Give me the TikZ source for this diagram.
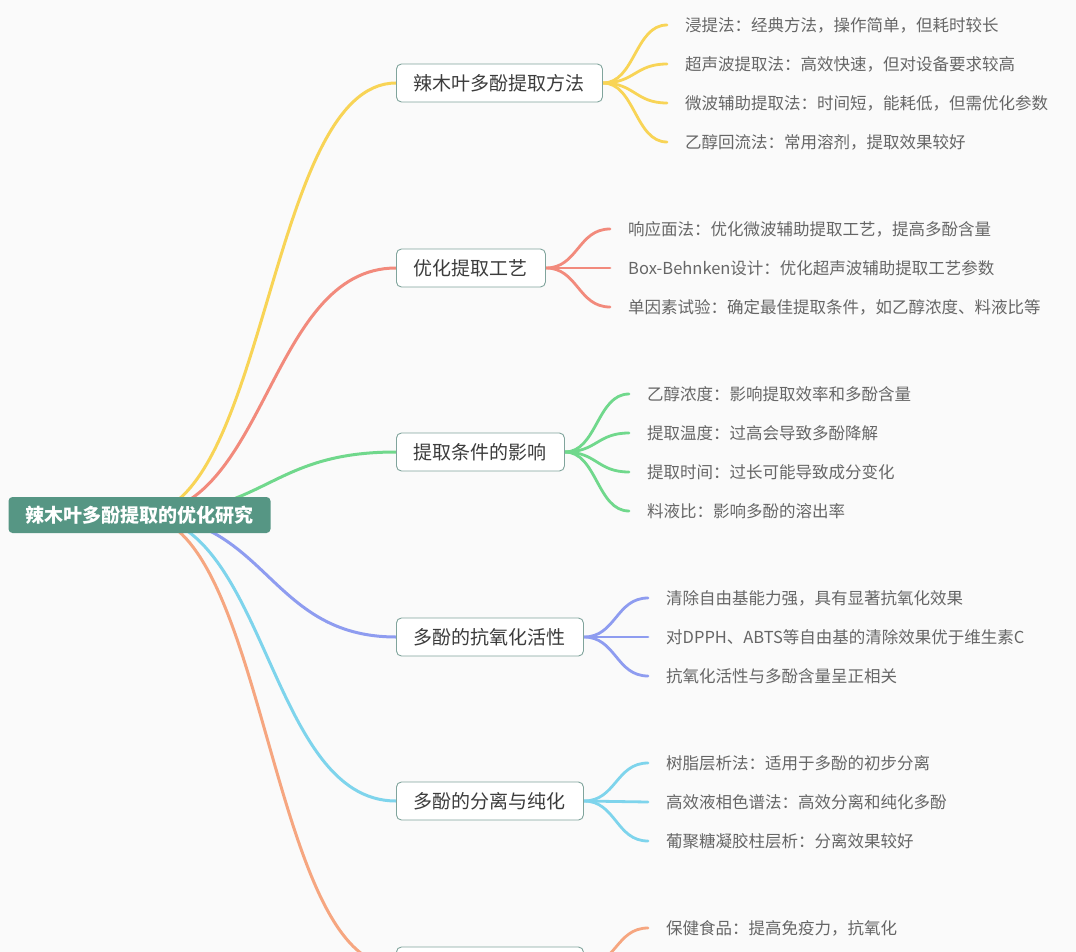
\documentclass[tikz,border=0pt]{standalone}
\usepackage{fontspec}
\setmainfont{Noto Sans CJK SC}
\usetikzlibrary{calc, backgrounds}
\definecolor{pagebg}{RGB}{250,250,250}
\definecolor{rootfill}{RGB}{86,150,132}
\definecolor{boxline}{RGB}{128,164,156}
\definecolor{txtmain}{RGB}{60,60,60}
\definecolor{txtleaf}{RGB}{102,102,102}
\definecolor{cyel}{RGB}{248,212,86}
\definecolor{cred}{RGB}{242,138,124}
\definecolor{cgrn}{RGB}{112,216,140}
\definecolor{cblu}{RGB}{142,156,240}
\definecolor{ccyn}{RGB}{126,212,236}
\definecolor{corg}{RGB}{246,166,128}

\begin{document}
\begin{tikzpicture}[
  x=1pt, y=-1pt,
  font=\fontsize{16.5}{20}\selectfont,
  root/.style={fill=rootfill, text=white, rounded corners=4pt, inner xsep=17pt,
               minimum height=36pt, font=\fontsize{19}{22}\selectfont\bfseries},
  topic/.style={draw=boxline, fill=white, rounded corners=5pt, line width=0.9pt,
                text=txtmain, inner xsep=17.5pt, minimum height=38pt, anchor=west,
                font=\fontsize{19}{22}\selectfont},
  leaf/.style={anchor=west, inner sep=0pt, text=txtleaf},
  link/.style={line width=3pt, out=0, in=180, distance=128pt},
  twig/.style={line width=2.8pt, line cap=round, out=0, in=180, distance=32pt},
]
\useasboundingbox (0,0) rectangle (1076,952);
\clip (0,0) rectangle (1076,952);

\node[root] (root) at (139.5,515) {辣木叶多酚提取的优化研究};

\node[topic] (b1) at (396,83)  {辣木叶多酚提取方法};
\node[topic] (b2) at (396,268) {优化提取工艺};
\node[topic] (b3) at (396,452) {提取条件的影响};
\node[topic] (b4) at (396,637) {多酚的抗氧化活性};
\node[topic] (b5) at (396,801) {多酚的分离与纯化};
\node[topic, minimum width=187pt] (b6) at (396,966) {};

% extraction methods
\node[leaf] (l11) at (685,25)  {浸提法：经典方法，操作简单，但耗时较长};
\node[leaf] (l12) at (685,64)  {超声波提取法：高效快速，但对设备要求较高};
\node[leaf] (l13) at (685,103) {微波辅助提取法：时间短，能耗低，但需优化参数};
\node[leaf] (l14) at (685,142) {乙醇回流法：常用溶剂，提取效果较好};
% process optimisation
\node[leaf] (l21) at (628,229) {响应面法：优化微波辅助提取工艺，提高多酚含量};
\node[leaf] (l22) at (628,268) {Box-Behnken设计：优化超声波辅助提取工艺参数};
\node[leaf] (l23) at (628,307) {单因素试验：确定最佳提取条件，如乙醇浓度、料液比等};
% conditions
\node[leaf] (l31) at (647,394) {乙醇浓度：影响提取效率和多酚含量};
\node[leaf] (l32) at (647,433) {提取温度：过高会导致多酚降解};
\node[leaf] (l33) at (647,472) {提取时间：过长可能导致成分变化};
\node[leaf] (l34) at (647,511) {料液比：影响多酚的溶出率};
% antioxidant activity
\node[leaf] (l41) at (666,598) {清除自由基能力强，具有显著抗氧化效果};
\node[leaf] (l42) at (666,637) {对DPPH、ABTS等自由基的清除效果优于维生素C};
\node[leaf] (l43) at (666,676) {抗氧化活性与多酚含量呈正相关};
% separation
\node[leaf] (l51) at (666,763) {树脂层析法：适用于多酚的初步分离};
\node[leaf] (l52) at (666,802) {高效液相色谱法：高效分离和纯化多酚};
\node[leaf] (l53) at (666,841) {葡聚糖凝胶柱层析：分离效果较好};
% applications (cut off below)
\node[leaf] (l61) at (666,928) {保健食品：提高免疫力，抗氧化};

\begin{scope}[on background layer]
  \fill[pagebg] (0,0) rectangle (1076,952);
  \foreach \k/\c in {1/cyel, 2/cred, 3/cgrn, 4/cblu, 5/ccyn, 6/corg}
    \draw[link, \c] (root.center) to (b\k.west);
  % twigs from each topic to its leaves
  \foreach \k/\c/\n in {1/cyel/4, 2/cred/3, 3/cgrn/4, 4/cblu/3, 5/ccyn/3, 6/corg/1}
    \foreach \i in {1,...,\n}
      \draw[twig, \c] (b\k.east) to ($(l\k\i.west)+(-18,0)$);
\end{scope}
\end{tikzpicture}
\end{document}
